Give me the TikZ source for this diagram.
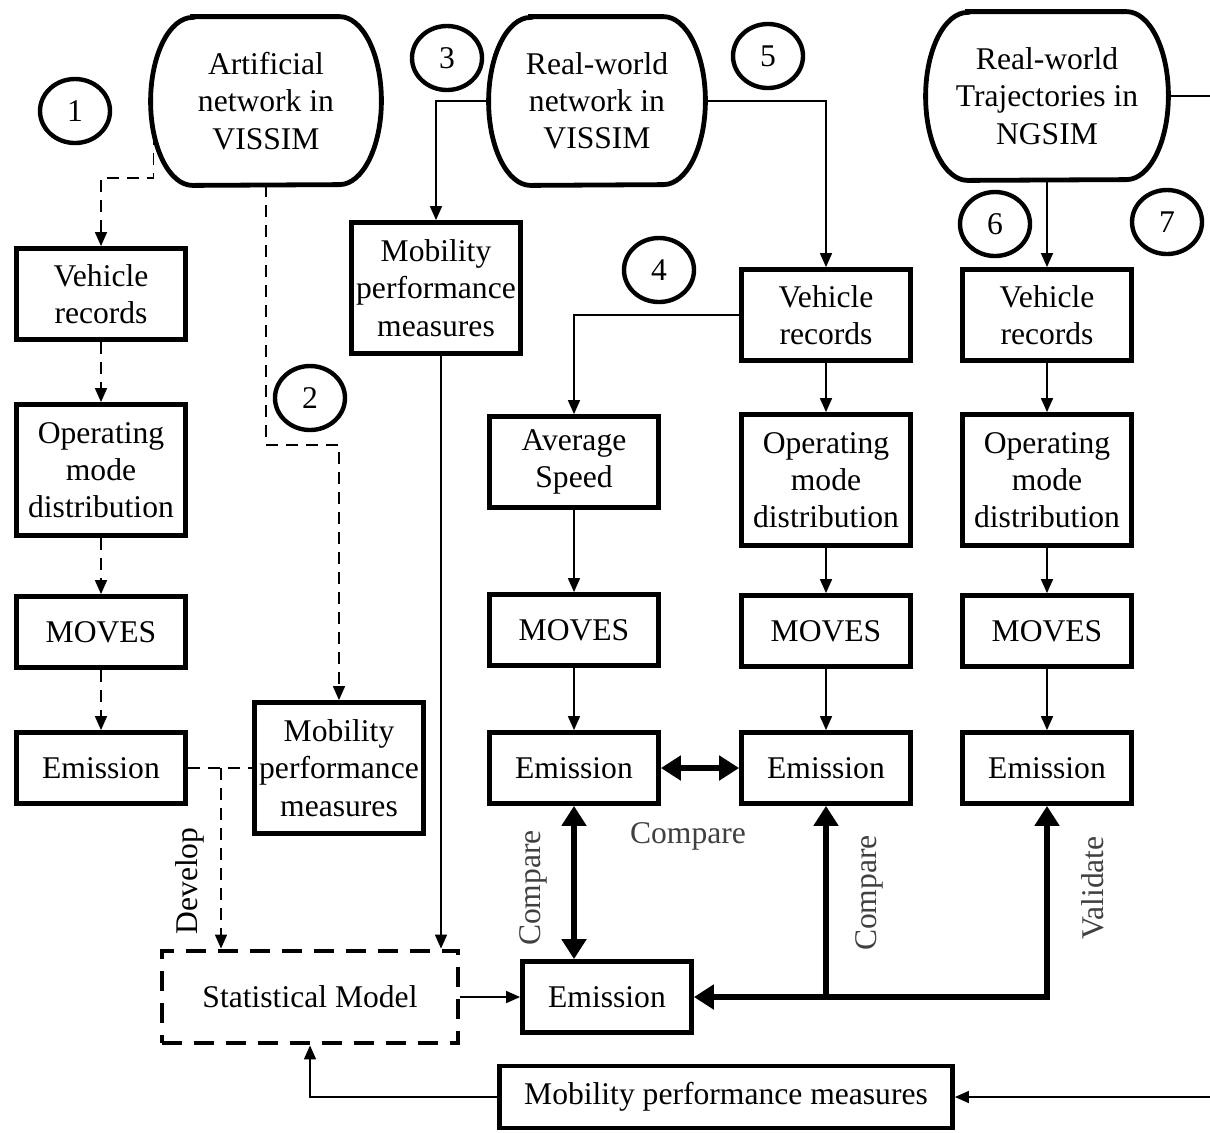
\documentclass[tikz,border=0pt]{standalone}
\usepackage{fontspec}
\setmainfont{Liberation Serif}
\usetikzlibrary{arrows.meta,positioning,calc,shapes.geometric}
\definecolor{lblgray}{HTML}{404040}

\begin{document}
\begin{tikzpicture}[x=0.5pt, y=-0.5pt,
  font=\fontsize{15.8pt}{18.6pt}\selectfont,
  box/.style={draw, line width=2.4pt, align=center, minimum width=84.5pt, minimum height=35.5pt, inner sep=1pt},
  twobox/.style={box, minimum height=45.5pt},
  threebox/.style={box, minimum height=65.5pt},
  dbnode/.style={align=center, minimum height=84pt, inner sep=0pt},
  num/.style={draw, ellipse, line width=2.2pt, minimum width=35pt, minimum height=32pt, inner sep=0pt},
  arrow/.style={-{Triangle[length=7pt,width=6pt]}, line width=0.8pt},
  dashline/.style={line width=0.8pt, dash pattern=on 6pt off 4pt},
  dasharrow/.style={arrow, dash pattern=on 6pt off 4pt},
  bigarrow/.style={{Triangle[length=10pt,width=12pt]}-{Triangle[length=10pt,width=12pt]}, line width=3pt},
  bigtip/.style={-{Triangle[length=10pt,width=12pt]}, line width=3pt},
  lbl/.style={text=lblgray}
]
\useasboundingbox (0,0) rectangle (1210,1132);

% sources
\node[dbnode, minimum width=115pt] (art) at (266,101) {Artificial\\network in\\VISSIM};
\node[dbnode, minimum width=108pt] (real) at (597,101) {Real-world\\network in\\VISSIM};
\node[dbnode, minimum width=121pt] (traj) at (1047,96) {Real-world\\Trajectories in\\NGSIM};
\foreach \n in {art,real,traj}
  \draw[line width=2.4pt] ($(\n.north west)+(42,0)$) -- ($(\n.north east)+(-42,0)$)
    arc[start angle=90, end angle=-90, x radius=21pt, y radius=42pt]
    -- ($(\n.south west)+(42,0)$)
    arc[start angle=270, end angle=90, x radius=21pt, y radius=42pt] -- cycle;

% step numbers
\node[num] (n1) at (75,111) {1};
\node[num] (n2) at (310,398) {2};
\node[num] (n3) at (447,58) {3};
\node[num] (n4) at (659,270) {4};
\node[num] (n5) at (768,56) {5};
\node[num] (n6) at (995,224) {6};
\node[num] (n7) at (1167,222) {7};

% column 1
\node[twobox] (vrA) at (101,294) {Vehicle\\records};
\node[threebox] (omA) at (101,470) {Operating\\mode\\distribution};
\node[box] (mvA) at (101,632) {MOVES};
\node[box] (emA) at (101,768) {Emission};

% mobility measures
\node[threebox] (mobA) at (436,288) {Mobility\\performance\\measures};
\node[threebox] (mobB) at (339,768) {Mobility\\performance\\measures};

% average speed column
\node[twobox] (avg) at (574,462) {Average\\Speed};
\node[box] (mvC) at (574,630) {MOVES};
\node[box] (emC) at (574,768) {Emission};

% operating mode column
\node[twobox] (vrD) at (826,315) {Vehicle\\records};
\node[threebox] (omD) at (826,480) {Operating\\mode\\distribution};
\node[box] (mvD) at (826,631) {MOVES};
\node[box] (emD) at (826,768) {Emission};

% NGSIM column
\node[twobox] (vrE) at (1047,315) {Vehicle\\records};
\node[threebox] (omE) at (1047,480) {Operating\\mode\\distribution};
\node[box] (mvE) at (1047,631) {MOVES};
\node[box] (emE) at (1047,768) {Emission};

% bottom row
\node[box, dash pattern=on 10pt off 6pt, minimum width=148pt, minimum height=46pt] (stat) at (310,997) {Statistical Model};
\node[box] (emF) at (607,997) {Emission};
\node[box, minimum width=226.5pt, minimum height=31pt] (mobC) at (726,1097) {Mobility performance measures};

% labels
\node[rotate=90] (develop) at (190,881) {Develop};
\node[lbl] (cmpH) at (688,836) {Compare};
\node[lbl, rotate=90] (cmpV) at (533,888) {Compare};
\node[lbl, rotate=90] (cmpD) at (869,893) {Compare};
\node[lbl, rotate=90] (valid) at (1093,888) {Validate};

% artificial network
\draw[dasharrow] ($(art.west)+(3,32)$) -- ++(0,45) -| (vrA.north);
\draw[dasharrow] (vrA) -- (omA);
\draw[dasharrow] (omA) -- (mvA);
\draw[dasharrow] (mvA) -- (emA);
\draw[dasharrow] (art.south) -- (art.south |- 0,445) -| (mobB.north);
\draw[dashline] (emA.east) -- (mobB.west);
\coordinate (dev) at (221,768);
\draw[dasharrow] (dev) -- (dev |- stat.north);

% real-world network
\draw[arrow] (real.west) -| (mobA.north);
\draw[arrow] (real.east) -| (vrD.north);
\draw[arrow] ([xshift=2.5pt]mobA.south) -- ([xshift=2.5pt]mobA.south |- stat.north);
\draw[arrow] (vrD.west) -| (avg.north);
\draw[arrow] (avg) -- (mvC);
\draw[arrow] (mvC) -- (emC);
\draw[arrow] (vrD) -- (omD);
\draw[arrow] (omD) -- (mvD);
\draw[arrow] (mvD) -- (emD);

% trajectories
\draw[arrow] (traj.south) -- (vrE.north);
\draw[arrow] (vrE) -- (omE);
\draw[arrow] (omE) -- (mvE);
\draw[arrow] (mvE) -- (emE);

% comparisons
\draw[bigarrow] (emC) -- (emD);
\draw[bigarrow] (emC.south) -- (emC.south |- emF.north);
\draw[bigarrow] (emF.east) -| (emE.south);
\draw[bigtip] (emD.south |- emF.east) -- (emD.south);

% model
\draw[arrow] (stat) -- (emF);
\draw[arrow] (traj.east) -- ++(70,0) |- (mobC.east);
\draw[arrow] (mobC.west) -| (stat.south);
\end{tikzpicture}
\end{document}
